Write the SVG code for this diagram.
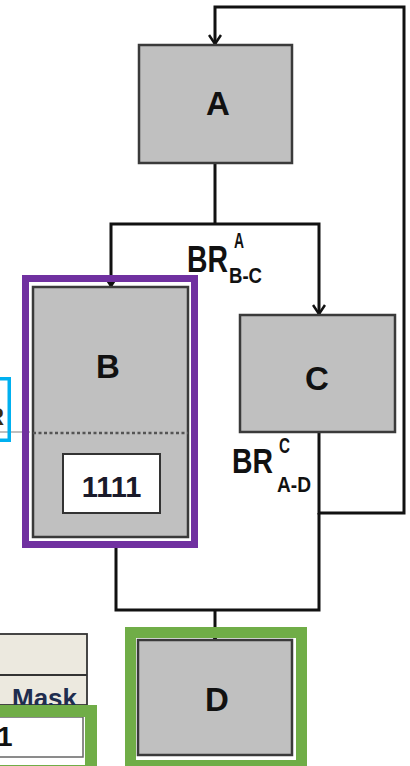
<svg xmlns="http://www.w3.org/2000/svg" width="410" height="766" viewBox="0 0 410 766">
<style>
.box{fill:#C0C0C0;stroke:#3a3a3a;stroke-width:2.5}
.lbl{font-family:"Liberation Sans",Arial,sans-serif;font-weight:bold;fill:#111;text-anchor:middle}
.conn{fill:none;stroke:#111;stroke-width:3;stroke-linejoin:miter}
.br{font-family:"Liberation Sans",Arial,sans-serif;font-weight:bold;fill:#111}
</style>
<defs>
<marker id="arr" markerWidth="14" markerHeight="14" refX="11" refY="7" orient="auto-start-reverse" markerUnits="userSpaceOnUse" viewBox="0 0 14 14">
<path d="M2,1 L11,7 L2,13" fill="none" stroke="#111" stroke-width="2.5"/>
</marker>
</defs>
<rect width="410" height="766" fill="#fff"/>
<g id="connectors">
<polyline class="conn" points="319,432 319,513 404,513 404,7 215,7 215,44" marker-end="url(#arr)"/>
<line class="conn" x1="215" y1="163" x2="215" y2="224"/>
<polyline class="conn" points="111,286 111,224 319,224 319,314" marker-start="url(#arr)" marker-end="url(#arr)"/>
<polyline class="conn" points="116,548 116,610 319,610 319,513"/>
<line class="conn" x1="215" y1="610" x2="215" y2="639" marker-end="url(#arr)"/>
<line x1="0" y1="432" x2="30" y2="432" stroke="#aaa" stroke-width="1.5"/>
</g>
<g id="label-bra">
<text class="br" x="187" y="272" font-size="37" textLength="41" lengthAdjust="spacingAndGlyphs">BR</text>
<text class="br" x="234" y="248" font-size="22" textLength="10" lengthAdjust="spacingAndGlyphs">A</text>
<text class="br" x="229" y="283" font-size="22" textLength="33" lengthAdjust="spacingAndGlyphs">B-C</text>
</g>
<g id="label-brc">
<text class="br" x="232" y="473" font-size="35" textLength="41" lengthAdjust="spacingAndGlyphs">BR</text>
<text class="br" x="279" y="453" font-size="22" textLength="11" lengthAdjust="spacingAndGlyphs">C</text>
<text class="br" x="277" y="492" font-size="22" textLength="34" lengthAdjust="spacingAndGlyphs">A-D</text>
</g>
<g id="node-a">
<rect class="box" x="139" y="45" width="153" height="118"/>
<text class="lbl" x="218" y="115" font-size="33">A</text>
</g>
<g id="node-c">
<rect class="box" x="240" y="315" width="155" height="117"/>
<text class="lbl" x="317" y="390" font-size="33">C</text>
</g>
<g id="node-b">
<rect class="box" x="33" y="287" width="155" height="250"/>
<line x1="33" y1="433" x2="188" y2="433" stroke="#555" stroke-width="2.5" stroke-dasharray="3,2.5"/>
<text class="lbl" x="108" y="378" font-size="33">B</text>
<rect x="63" y="454" width="97" height="59" fill="#fff" stroke="#333" stroke-width="2"/>
<text x="111.5" y="497" font-family="'Liberation Sans',Arial,sans-serif" font-size="29" font-weight="bold" fill="#1a1a2a" text-anchor="middle">1111</text>
<rect x="25.5" y="278.5" width="169" height="266" fill="none" stroke="#7030A0" stroke-width="7"/>
</g>
<g id="node-d">
<rect class="box" x="138" y="640" width="154" height="115"/>
<text class="lbl" x="217" y="711" font-size="33">D</text>
<rect x="130.5" y="632.5" width="171" height="133" fill="none" stroke="#70AD47" stroke-width="11"/>
</g>
<g id="side-r">
<rect x="-10" y="378.75" width="19.25" height="61.5" fill="none" stroke="#00B0F0" stroke-width="3.5"/>
<text x="4" y="425" font-family="'Liberation Sans',Arial,sans-serif" font-size="24" font-weight="bold" fill="#3a2a10" text-anchor="end">R</text>
</g>
<g id="mask-table">
<rect x="-2" y="634" width="89" height="71" fill="#ECE9DF" stroke="#333" stroke-width="1.8"/>
<line x1="-2" y1="675" x2="87" y2="675" stroke="#333" stroke-width="1.8"/>
<text x="12" y="707" font-family="'Liberation Sans',Arial,sans-serif" font-size="26" font-weight="bold" fill="#1F2D4F">Mask</text>
<rect x="-2" y="717" width="85" height="40" fill="#fff" stroke="#666" stroke-width="1.5"/>
<text x="-3" y="746" font-family="'Liberation Sans',Arial,sans-serif" font-size="28" font-weight="bold" fill="#111">1</text>
<rect x="-10" y="711" width="101" height="60" fill="none" stroke="#70AD47" stroke-width="12"/>
</g>
</svg>
